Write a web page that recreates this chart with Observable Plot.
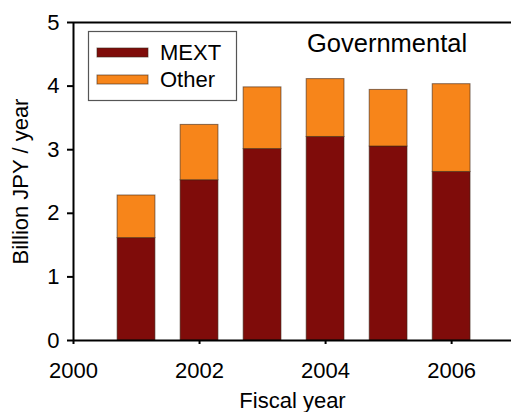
<!DOCTYPE html>
<html>
<head>
<meta charset="utf-8">
<script src="https://cdn.jsdelivr.net/npm/d3@7"></script>
<script src="https://cdn.jsdelivr.net/npm/@observablehq/plot@0.6"></script>
<style>
  html, body { margin: 0; padding: 0; background: #fff; }
  #chart { position: relative; width: 511px; height: 412px; overflow: hidden; }
</style>
</head>
<body>
<div id="chart"></div>
<script>
const years = [2001, 2002, 2003, 2004, 2005, 2006];
const mext = [1.61, 2.52, 3.01, 3.20, 3.05, 2.65];
const other = [0.67, 0.87, 0.97, 0.91, 0.89, 1.38];
const seriesNames = ["MEXT", "Other"];
const seriesColors = ["#7f0c0a", "#f7851a"];
const xTicks = [2000, 2002, 2004, 2006];
const yTicks = [0, 1, 2, 3, 4, 5];
const title = "Governmental";
const xLabel = "Fiscal year";
const yLabel = "Billion JPY / year";

const halfWidth = 0.3;
const barStroke = {stroke: "#3b2418", strokeWidth: 1, strokeOpacity: 0.6};

const plot = Plot.plot({
  width: 511,
  height: 412,
  marginLeft: 73,
  marginRight: 0,
  marginTop: 22,
  marginBottom: 72,
  style: {fontFamily: '"Liberation Sans", Arial, sans-serif', fontSize: "22px", color: "#000", background: "#fff", overflow: "visible"},
  x: {domain: [2000, 2006.95]},
  y: {domain: [0, 5]},
  marks: [
    Plot.rect(years, {x1: d => d - halfWidth, x2: d => d + halfWidth, y1: 0, y2: (d, i) => mext[i], fill: seriesColors[0], ...barStroke}),
    Plot.rect(years, {x1: d => d - halfWidth, x2: d => d + halfWidth, y1: (d, i) => mext[i], y2: (d, i) => mext[i] + other[i], fill: seriesColors[1], ...barStroke}),
    Plot.axisY({ticks: yTicks, tickFormat: d => String(d), tickSize: 6, tickPadding: 8, strokeWidth: 2, label: yLabel, labelAnchor: "center", labelOffset: 61, labelArrow: "none"}),
    Plot.axisX({ticks: xTicks, tickFormat: d => String(d), tickSize: 4, tickPadding: 18, strokeWidth: 2, label: xLabel, labelAnchor: "center", labelOffset: 67, labelArrow: "none"}),
    Plot.ruleX([2000], {strokeWidth: 2}),
    Plot.ruleY([0, 5], {strokeWidth: 2})
  ]
});

document.getElementById("chart").appendChild(plot);

// Legend and in-plot title
const svg = d3.select(plot);
const g = svg.append("g")
  .attr("font-family", '"Liberation Sans", Arial, sans-serif')
  .attr("font-size", 22)
  .attr("text-anchor", "start");
g.append("rect").attr("x", 88.5).attr("y", 31.5).attr("width", 148).attr("height", 69)
  .attr("fill", "#fff").attr("stroke", "#555").attr("stroke-width", 1.2);
seriesNames.forEach((name, i) => {
  const yTop = 48 + i * 27;
  g.append("rect").attr("x", 97).attr("y", yTop).attr("width", 51).attr("height", 9)
    .attr("fill", seriesColors[i]).attr("stroke", "#3b2418").attr("stroke-opacity", 0.6).attr("stroke-width", 1);
  g.append("text").attr("x", 160).attr("y", yTop + 12).attr("text-anchor", "start").attr("fill", "#000").text(name);
});
g.append("text").attr("x", 307).attr("y", 52).attr("font-size", 25.5).attr("text-anchor", "start").attr("fill", "#000").text(title);
</script>
</body>
</html>
